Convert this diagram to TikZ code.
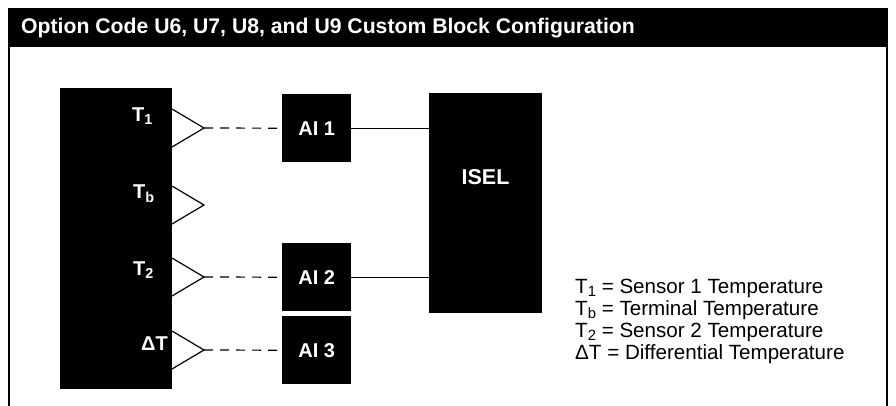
\documentclass[tikz,border=0pt]{standalone}
\usepackage{fontspec}
\setmainfont{Liberation Sans}
\newcommand{\lowsub}[1]{\raisebox{-0.35ex}{\fontsize{0.72em}{1em}\selectfont #1}}
\begin{document}
\begin{tikzpicture}[x=1pt,y=-1pt,
  blk/.style={fill=black, draw=none, inner sep=0pt, anchor=north west},
  whitebold/.style={text=white, inner sep=0pt, font=\bfseries\fontsize{20}{22}\selectfont},
  legend/.style={inner sep=0pt, anchor=base west, font=\fontsize{20.6}{24}\selectfont},
  tri/.style={line width=1.2pt, line join=miter},
  dashline/.style={line width=1.2pt, dash pattern=on 9pt off 7pt},
  wire/.style={line width=1.2pt},
  frame/.style={line width=2pt}]
\useasboundingbox (0,0) rectangle (896,405);
% header and frame
\node[blk, minimum width=880pt, minimum height=39pt] (header) at (8,8) {};
\node[text=white, inner sep=0pt, anchor=base west, font=\bfseries\fontsize{21.2}{24}\selectfont] (title) at (21,33)
  {Option Code U6, U7, U8, and U9 Custom Block Configuration};
\draw[frame] (header.south west) ++(1pt,0) -- ++(0,370);
\draw[frame] (header.south east) ++(-1pt,0) -- ++(0,370);
% blocks
\node[blk, minimum width=112pt, minimum height=301pt] (sensor) at (60,88) {};
\node[blk, minimum width=69pt, minimum height=68pt, whitebold] (ai1) at (282,94) {AI 1};
\node[blk, minimum width=69pt, minimum height=68pt, whitebold] (ai2) at (282,243) {AI 2};
\node[blk, minimum width=69pt, minimum height=68pt, whitebold] (ai3) at (282,316) {AI 3};
\node[blk, minimum width=113pt, minimum height=220pt] (isel) at (429,93) {};
\node[whitebold, font=\bfseries\fontsize{21.5}{24}\selectfont] (isellbl) at (485.5,177) {ISEL};
% sensor labels
\node[whitebold, anchor=west] (lt1) at (132,116) {T\lowsub{1}};
\node[whitebold, anchor=west] (ltb) at (133,194) {T\lowsub{b}};
\node[whitebold, anchor=west] (lt2) at (133,270) {T\lowsub{2}};
\node[whitebold, anchor=west] (ldt) at (141,344) {ΔT};
% triangles
\coordinate (t1tip) at (204,128);
\coordinate (tbtip) at (204,205);
\coordinate (t2tip) at (204,277);
\coordinate (dttip) at (204,350);
\foreach \c in {t1tip,tbtip,t2tip,dttip}{
  \draw[tri] (\c) ++(-32,-19) -- (\c) -- ++(-32,19);
}
% connectors
\draw[dashline] (t1tip) -- (ai1.west);
\draw[dashline] (t2tip) -- (ai2.west);
\draw[dashline] (dttip) -- (ai3.west);
\draw[wire] (ai1.east) -- (ai1.east -| isel.west);
\draw[wire] (ai2.east) -- (ai2.east -| isel.west);
% legend
\node[legend] (leg1) at (575,293) {T\lowsub{1} = Sensor 1 Temperature};
\node[legend] (leg2) at (575,315) {T\lowsub{b} = Terminal Temperature};
\node[legend] (leg3) at (575,337) {T\lowsub{2} = Sensor 2 Temperature};
\node[legend] (leg4) at (575,359) {ΔT = Differential Temperature};
\end{tikzpicture}
\end{document}
